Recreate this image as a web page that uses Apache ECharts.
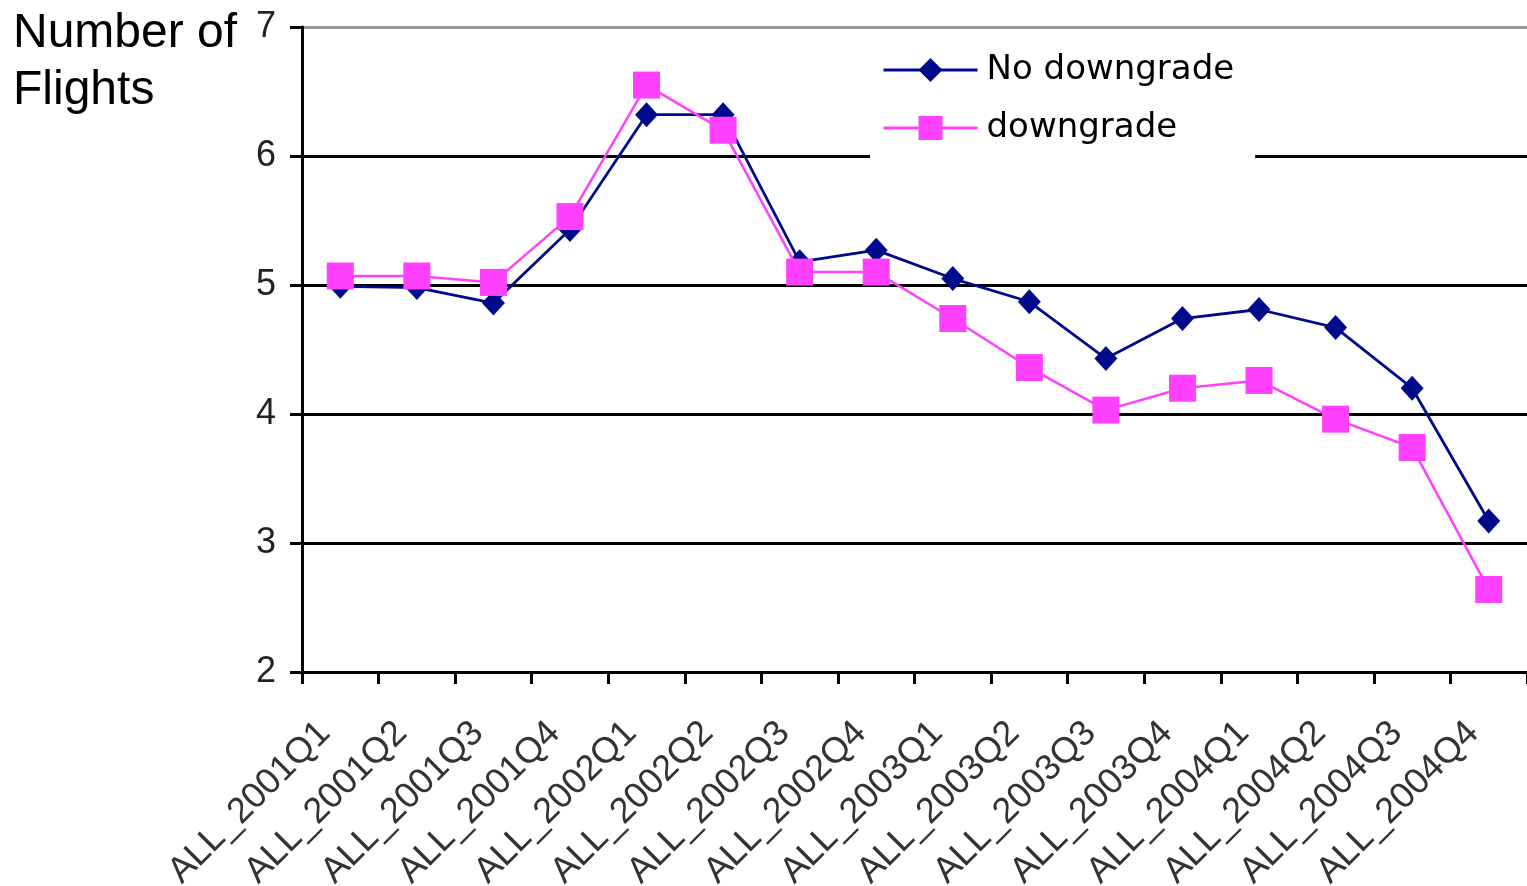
<!DOCTYPE html>
<html>
<head>
<meta charset="utf-8">
<title>Number of Flights</title>
<script src="https://cdn.jsdelivr.net/npm/echarts@6/dist/echarts.min.js"></script>
<style>
  html, body { margin: 0; padding: 0; background: #fff; }
  #chart { width: 1527px; height: 886px; }
</style>
</head>
<body>
<div id="chart"></div>
<script>
// Quarterly categories
const quarters = [
  'ALL_2001Q1', 'ALL_2001Q2', 'ALL_2001Q3', 'ALL_2001Q4',
  'ALL_2002Q1', 'ALL_2002Q2', 'ALL_2002Q3', 'ALL_2002Q4',
  'ALL_2003Q1', 'ALL_2003Q2', 'ALL_2003Q3', 'ALL_2003Q4',
  'ALL_2004Q1', 'ALL_2004Q2', 'ALL_2004Q3', 'ALL_2004Q4'
];

// Average number of flights per quarter
const noDowngrade = [4.99, 4.98, 4.86, 5.43, 6.32, 6.32, 5.18, 5.27,
                     5.05, 4.87, 4.43, 4.74, 4.81, 4.67, 4.20, 3.17];
const downgrade   = [5.07, 5.07, 5.02, 5.53, 6.55, 6.20, 5.10, 5.10,
                     4.74, 4.36, 4.03, 4.20, 4.26, 3.96, 3.74, 2.64];

const seriesNames = ['No downgrade', 'downgrade'];
const yTitle = 'Number of\nFlights';

const chart = echarts.init(document.getElementById('chart'), null, { renderer: 'canvas' });

const sans = 'Liberation Sans, Arial, sans-serif';
const wide = 'DejaVu Sans, Verdana, sans-serif';

chart.setOption({
  backgroundColor: '#ffffff',
  animation: false,
  title: {
    text: yTitle,
    left: 8,
    top: 0,
    textStyle: {
      fontFamily: sans,
      fontSize: 48,
      fontWeight: 'normal',
      color: '#000',
      lineHeight: 57
    }
  },
  legend: {
    orient: 'vertical',
    left: 870,
    top: 38,
    padding: [12, 21, 14, 12],
    backgroundColor: '#ffffff',
    itemWidth: 94,
    itemHeight: 30,
    itemGap: 18,
    lineStyle: { width: 3 },
    textStyle: {
      fontFamily: wide,
      fontSize: 34,
      lineHeight: 40,
      color: '#000',
      padding: [0, 0, 0, 4]
    },
    data: seriesNames
  },
  grid: {
    left: 302,
    right: 0,
    top: 27,
    bottom: 214,
    containLabel: false,
    outerBoundsMode: 'none'
  },
  xAxis: {
    type: 'category',
    data: quarters,
    boundaryGap: true,
    axisLine: { show: true, lineStyle: { color: '#000', width: 3 } },
    axisTick: { show: true, alignWithLabel: false, length: 12, lineStyle: { color: '#000', width: 3 } },
    axisLabel: {
      rotate: 45,
      interval: 0,
      margin: 40,
      fontFamily: sans,
      fontSize: 36,
      color: '#333',
      padding: [0, 22, 0, 0]
    },
    splitLine: { show: false }
  },
  yAxis: {
    type: 'value',
    min: 2,
    max: 7,
    interval: 1,
    axisLine: { show: true, lineStyle: { color: '#000', width: 3 } },
    axisTick: { show: true, inside: false, length: 12, lineStyle: { color: '#000', width: 3 } },
    axisLabel: {
      margin: 26,
      fontFamily: sans,
      fontSize: 36,
      color: '#222'
    },
    splitLine: {
      show: true,
      lineStyle: {
        color: ['#000', '#000', '#000', '#000', '#000', '#999'],
        width: 3
      }
    }
  },
  series: [
    {
      name: seriesNames[0],
      type: 'line',
      data: noDowngrade,
      symbol: 'diamond',
      symbolSize: [23, 25],
      z: 2,
      lineStyle: { color: '#000b8c', width: 2.8 },
      itemStyle: { color: '#000b8c' }
    },
    {
      name: seriesNames[1],
      type: 'line',
      data: downgrade,
      symbol: 'rect',
      symbolSize: 27,
      z: 3,
      lineStyle: { color: '#ff40ff', width: 2.5 },
      itemStyle: { color: '#ff40ff' }
    }
  ]
});
</script>
</body>
</html>
